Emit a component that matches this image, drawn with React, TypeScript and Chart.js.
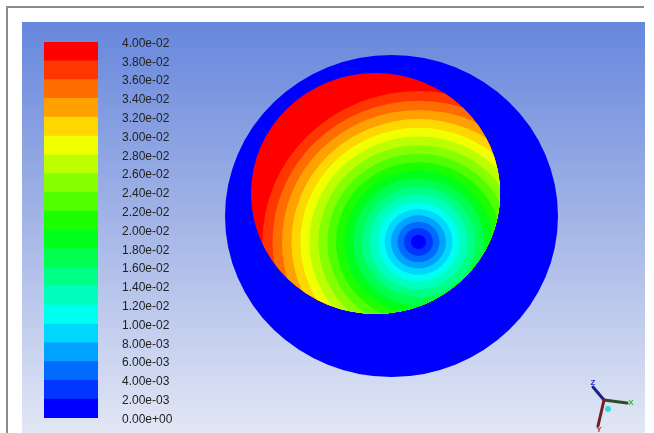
import React, { useEffect, useRef } from 'react';
import { Chart, registerables } from 'chart.js';

Chart.register(...registerables);

// Contour levels shown on the colour bar (tick labels)
const levels = [0, 0.002, 0.004, 0.006, 0.008, 0.01, 0.012, 0.014, 0.016, 0.018, 0.02, 0.022, 0.024, 0.026, 0.028, 0.03, 0.032, 0.034, 0.036, 0.038, 0.04];
// One colour per band between consecutive levels
const bandColors = ['#0000ff', '#0036ff', '#006cff', '#00a1ff', '#00d7ff', '#00fff1', '#00ffbc', '#00ff86', '#00ff50', '#00ff1b', '#1bff00', '#50ff00', '#86ff00', '#bcff00', '#f1ff00', '#ffd700', '#ffa100', '#ff6c00', '#ff3600', '#ff0000'];
// Radius (model units, outer wall radius = 100) of each contour line levels[1..19], measured from the vortex core
const levelRadii = [4.5, 8.7, 12.6, 16.5, 20.4, 24.6, 29.4, 34.2, 39.3, 44.4, 49.5, 54.7, 60.1, 65.5, 70.9, 76.3, 82.0, 87.7, 93.7];
// Geometry (model units): [cx, cy, r]
const outerDisc = [0, 0, 100];
const innerDisc = [-9.6, 14.0, 74.8];
const vortexCore = [16.2, -16.1];

function fmt(v: number): string {
  const s = v.toExponential(2);
  return s.replace(/e([+-])(\d)$/, (_m, sign, d) => 'e' + sign + '0' + d);
}

function ellipsePath(chart: any, cx: number, cy: number, r: number) {
  const { ctx, scales } = chart;
  const x = scales.x, y = scales.y;
  const px = x.getPixelForValue(cx);
  const py = y.getPixelForValue(cy);
  const rx = Math.abs(x.getPixelForValue(cx + r) - px);
  const ry = Math.abs(y.getPixelForValue(cy + r) - py);
  ctx.beginPath();
  ctx.ellipse(px, py, rx, ry, 0, 0, Math.PI * 2);
}

const fieldPlugin = {
  id: 'fieldPlugin',
  beforeDraw(chart: any) {
    const ctx = chart.ctx as CanvasRenderingContext2D;
    const W = chart.width, H = chart.height;
    ctx.save();
    ctx.fillStyle = '#ffffff';
    ctx.fillRect(0, 0, W, H);
    // frame
    ctx.strokeStyle = '#8c8c8c';
    ctx.lineWidth = 2;
    ctx.beginPath();
    ctx.moveTo(7, H);
    ctx.lineTo(7, 7);
    ctx.lineTo(644, 7);
    ctx.stroke();
    // graphics window background
    const g = ctx.createLinearGradient(0, 22, 0, H);
    g.addColorStop(0, '#6787dc');
    g.addColorStop(0.5, '#a5b6e7');
    g.addColorStop(1, '#e2e7f5');
    ctx.fillStyle = g;
    ctx.fillRect(22, 22, 645 - 22, H - 22);
    ctx.restore();
  },
  afterDatasetsDraw(chart: any) {
    const ctx = chart.ctx as CanvasRenderingContext2D;
    ctx.save();
    // outer wall region
    ellipsePath(chart, outerDisc[0], outerDisc[1], outerDisc[2]);
    ctx.fillStyle = bandColors[0];
    ctx.fill();
    // inner rotating region, clipped
    ctx.save();
    ellipsePath(chart, innerDisc[0], innerDisc[1], innerDisc[2]);
    ctx.clip();
    ctx.fillStyle = bandColors[bandColors.length - 1];
    ellipsePath(chart, innerDisc[0], innerDisc[1], innerDisc[2] + 2);
    ctx.fill();
    for (let i = levelRadii.length - 1; i >= 0; i--) {
      ellipsePath(chart, vortexCore[0], vortexCore[1], levelRadii[i]);
      ctx.fillStyle = bandColors[i];
      ctx.fill();
    }
    ctx.restore();

    // axis triad
    const cx = 604, cy = 400;
    ctx.lineCap = 'round';
    ctx.lineWidth = 3;
    ctx.strokeStyle = '#1f1f8a';
    ctx.beginPath(); ctx.moveTo(cx, cy); ctx.lineTo(593, 387); ctx.stroke();
    ctx.strokeStyle = '#2c4a2c';
    ctx.beginPath(); ctx.moveTo(cx, cy); ctx.lineTo(627, 403); ctx.stroke();
    ctx.strokeStyle = '#6e2222';
    ctx.beginPath(); ctx.moveTo(cx, cy); ctx.lineTo(598, 426); ctx.stroke();
    ctx.fillStyle = '#2fe0cf';
    ctx.beginPath(); ctx.arc(608, 409, 3, 0, Math.PI * 2); ctx.fill();
    ctx.font = 'bold 8px "Liberation Sans", Arial, sans-serif';
    ctx.textAlign = 'center';
    ctx.textBaseline = 'middle';
    ctx.fillStyle = '#1a2ad8';
    ctx.fillText('Z', 593, 383);
    ctx.fillStyle = '#25c025';
    ctx.fillText('X', 631, 403);
    ctx.fillStyle = '#d02424';
    ctx.fillText('Y', 599, 430);
    ctx.restore();
  },
};

export default function App() {
  const mainRef = useRef<HTMLCanvasElement>(null);
  const barRef = useRef<HTMLCanvasElement>(null);

  useEffect(() => {
    const main = new Chart(mainRef.current as HTMLCanvasElement, {
      type: 'scatter',
      data: {
        datasets: [
          { data: [{ x: vortexCore[0], y: vortexCore[1] }], pointRadius: 0 },
        ],
      },
      options: {
        responsive: false,
        animation: false,
        devicePixelRatio: 1,
        layout: { padding: { left: 225, right: 96, top: 55, bottom: 56 } },
        scales: {
          x: { type: 'linear', min: -100, max: 100, display: false },
          y: { type: 'linear', min: -100, max: 100, display: false },
        },
        plugins: { legend: { display: false }, tooltip: { enabled: false } },
      },
      plugins: [fieldPlugin],
    } as any);

    const bar = new Chart(barRef.current as HTMLCanvasElement, {
      type: 'bar',
      data: {
        labels: [''],
        datasets: bandColors.map((c, i) => ({
          data: [[levels[i], levels[i + 1]]],
          backgroundColor: c,
          borderWidth: 0,
          grouped: false,
          barPercentage: 1,
          categoryPercentage: 1,
        })),
      },
      options: {
        responsive: false,
        animation: false,
        devicePixelRatio: 1,
        layout: { padding: { left: 0, right: 0, top: 12, bottom: 12 } },
        scales: {
          x: { display: false },
          y: {
            type: 'linear',
            position: 'right',
            min: 0,
            max: 0.04,
            grid: { display: false, drawTicks: false },
            border: { display: false },
            afterBuildTicks: (scale: any) => {
              scale.ticks = levels.map((v) => ({ value: v }));
            },
            afterFit: (scale: any) => {
              scale.width = 106;
              scale.paddingTop = 4;
              scale.paddingBottom = 4;
            },
            ticks: {
              autoSkip: false,
              padding: 24,
              labelOffset: 1.5,
              color: '#222222',
              font: { family: '"Liberation Sans", Arial, sans-serif', size: 12 },
              callback: (v: any) => fmt(Number(v)),
            },
          },
        },
        plugins: { legend: { display: false }, tooltip: { enabled: false } },
      },
    } as any);

    return () => {
      main.destroy();
      bar.destroy();
    };
  }, []);

  return (
    <div style={{ position: 'fixed', left: 0, top: 0, width: 654, height: 433, background: '#ffffff', overflow: 'hidden' }}>
      <canvas ref={mainRef} width={654} height={433} style={{ position: 'absolute', left: 0, top: 0, width: 654, height: 433 }} />
      <canvas ref={barRef} width={160} height={400} style={{ position: 'absolute', left: 44, top: 30, width: 160, height: 400 }} />
    </div>
  );
}
